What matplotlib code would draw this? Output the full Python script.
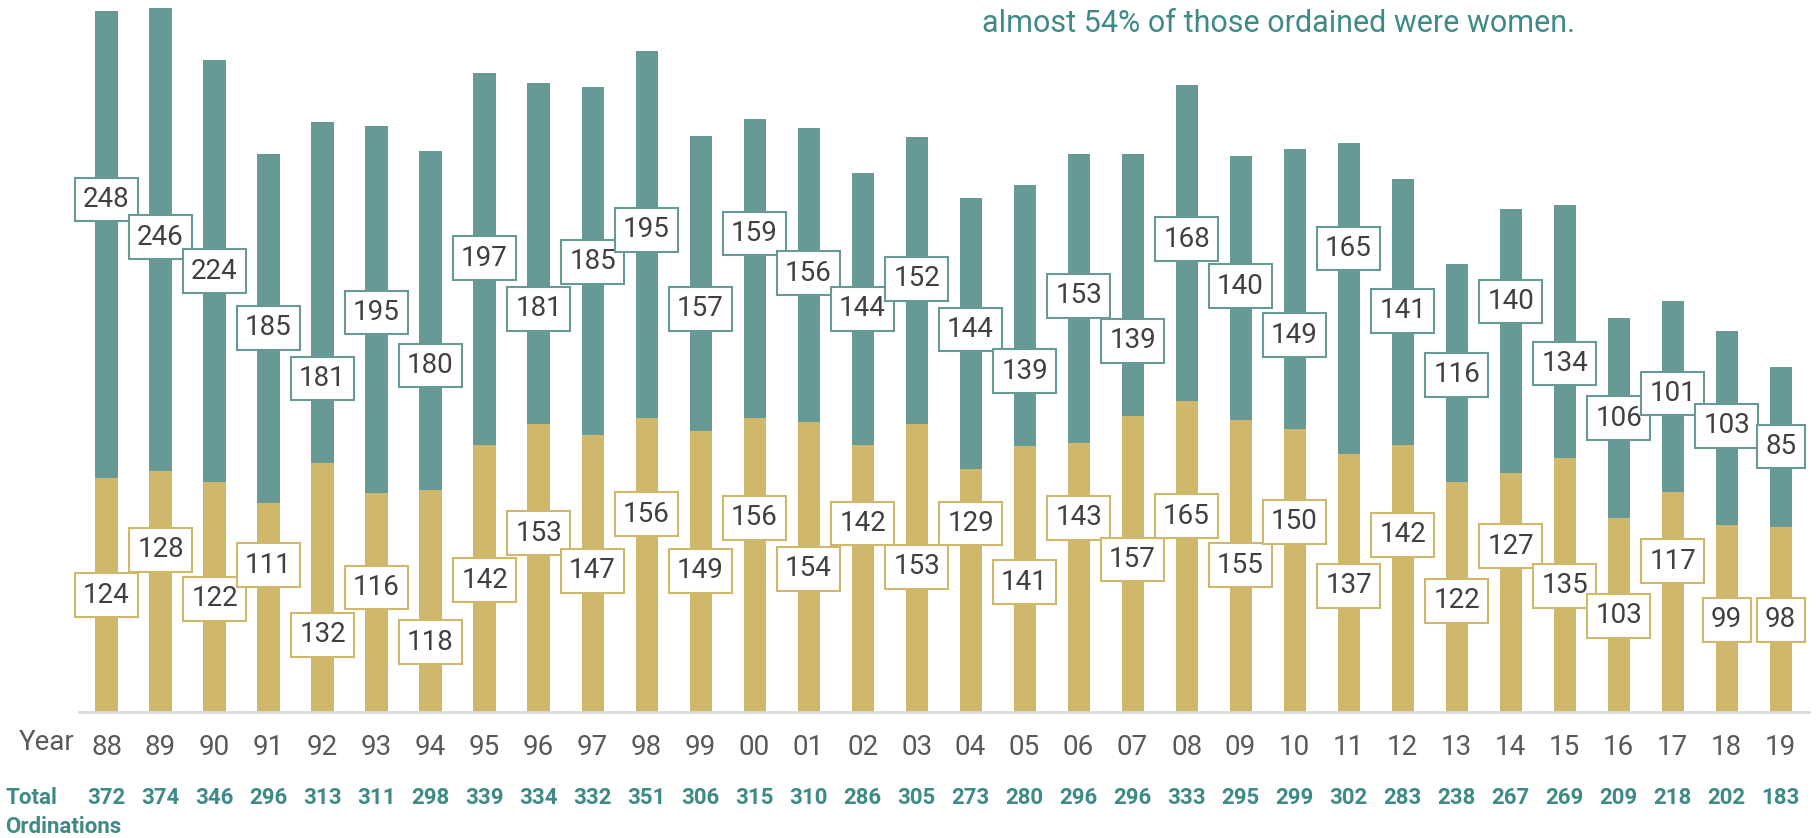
import numpy as np
import matplotlib
matplotlib.use('Agg')
import matplotlib.pyplot as plt

years = ['88', '89', '90', '91', '92', '93', '94', '95', '96', '97', '98', '99', '00', '01', '02', '03',
         '04', '05', '06', '07', '08', '09', '10', '11', '12', '13', '14', '15', '16', '17', '18', '19']
gold_vals = [124, 128, 122, 111, 132, 116, 118, 142, 153, 147, 156, 149, 156, 154, 142, 153,
             129, 141, 143, 157, 165, 155, 150, 137, 142, 122, 127, 135, 103, 117, 99, 98]
teal_vals = [248, 246, 224, 185, 181, 195, 180, 197, 181, 185, 195, 157, 159, 156, 144, 152,
             144, 139, 153, 139, 168, 140, 149, 165, 141, 116, 140, 134, 106, 101, 103, 85]
totals = [372, 374, 346, 296, 313, 311, 298, 339, 334, 332, 351, 306, 315, 310, 286, 305,
          273, 280, 296, 296, 333, 295, 299, 302, 283, 238, 267, 269, 209, 218, 202, 183]

# label heights (placed by hand in the original, to dodge each other)
gold_lab_y = [62, 86, 60, 78, 41, 66, 37, 70, 95, 75, 105, 75, 103, 76, 100, 77,
              100, 69, 103, 81, 104, 78, 101, 67, 94, 59, 88, 67, 51, 80, 49, 49]
teal_lab_y = [272, 252, 234, 204, 177, 212, 184, 241, 214, 239, 256, 214, 254, 233, 214, 230,
              203, 181, 221, 197, 251, 226, 200, 246, 213, 179, 218, 185, 156, 169, 152, 141]

teal = '#679996'
gold = '#cfb76c'
txt_teal = '#3d8a87'

plt.rcParams['font.family'] = ['Roboto', 'DejaVu Sans']

fig = plt.figure(figsize=(18.16, 8.38), dpi=100)
ax = fig.add_axes([0.0435, 0.1504, 0.9525, 0.8496])

x = np.arange(len(years))
w = 0.41
ax.bar(x, gold_vals, w, color=gold)
ax.bar(x, teal_vals, w, bottom=gold_vals, color=teal)

for i in range(len(years)):
    ax.text(x[i], gold_lab_y[i], str(gold_vals[i]), ha='center', va='center', fontsize=20,
            color='#404040', bbox=dict(boxstyle='square,pad=0.3', fc='white', ec=gold, lw=1.5))
    ax.text(x[i], teal_lab_y[i], str(teal_vals[i]), ha='center', va='center', fontsize=20,
            color='#404040', bbox=dict(boxstyle='square,pad=0.3', fc='white', ec=teal, lw=1.5))

ax.set_xlim(-0.51, 31.52)
ax.set_ylim(0, 378)
ax.set_xticks(x)
ax.set_xticklabels(years, fontsize=20, color='#595959')
ax.tick_params(axis='x', length=0, pad=16)
ax.set_yticks([])
for s in ['top', 'right', 'left']:
    ax.spines[s].set_visible(False)
ax.spines['bottom'].set_color('#d9d9d9')
ax.spines['bottom'].set_linewidth(2)

fig.text(0.0255, 0.114, 'Year', fontsize=20, color='#595959', ha='center', va='center')

trans = ax.get_xaxis_transform()
for i in range(len(years)):
    ax.text(x[i], -0.121, str(totals[i]), transform=trans, ha='center', va='center',
            fontsize=16, fontweight='bold', color=txt_teal)
fig.text(0.003, 0.0475, 'Total', fontsize=16, fontweight='bold', color=txt_teal, va='center')
fig.text(0.003, 0.013, 'Ordinations', fontsize=16, fontweight='bold', color=txt_teal, va='center')

fig.text(0.541, 0.972, 'almost 54% of those ordained were women.', fontsize=22,
         color=txt_teal, va='center')

fig.savefig('out.png', dpi=100)
